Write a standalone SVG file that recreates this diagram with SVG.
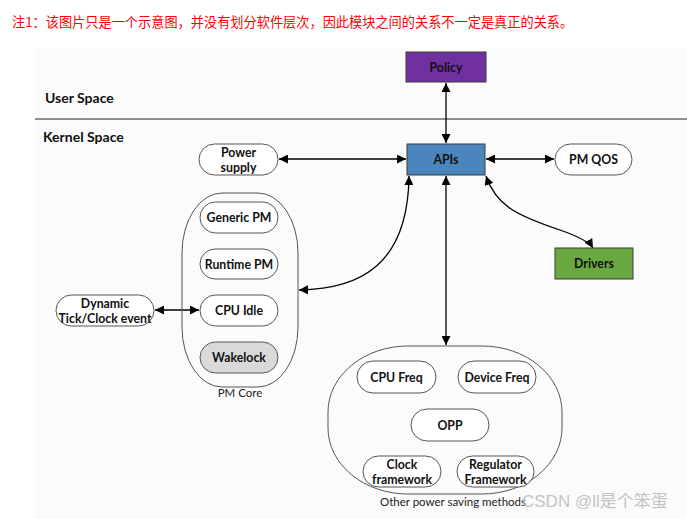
<svg xmlns="http://www.w3.org/2000/svg" width="687" height="519" viewBox="0 0 687 519">
<defs>
<marker id="ah" viewBox="0 0 10 10" refX="10" refY="5" markerWidth="9" markerHeight="9" markerUnits="userSpaceOnUse" orient="auto-start-reverse">
<path d="M0,0 L10,5 L0,10 z" fill="#000"/>
</marker>
<style>
.t{font-family:Lato,"Open Sans","Liberation Sans",sans-serif;font-weight:bold;font-size:12.3px;fill:#111;text-anchor:middle;dominant-baseline:central}
.lbl{font-family:Lato,"Open Sans","Liberation Sans",sans-serif;font-size:11.5px;fill:#222;text-anchor:middle}
.sp{font-family:Lato,"Open Sans","Liberation Sans",sans-serif;font-weight:bold;font-size:14px;fill:#111}
.pill{fill:#fff;stroke:#555;stroke-width:1}
.box{stroke:#3a3a3a;stroke-width:1}
.cont{fill:none;stroke:#555;stroke-width:1}
.c{fill:none;stroke:#000;stroke-width:1.3;marker-start:url(#ah);marker-end:url(#ah)}
</style>
</defs>
<rect x="0" y="0" width="687" height="519" fill="#fff"/>
<rect x="35" y="48" width="652" height="471" fill="#fbfbfb"/>
<text x="12" y="27" font-family="'Noto Sans CJK SC',sans-serif" font-size="13.2" fill="#ff0000">注1：该图片只是一个示意图，并没有划分软件层次，因此模块之间的关系不一定是真正的关系。</text>
<text class="sp" x="45" y="103">User Space</text>
<line x1="35" y1="119" x2="687" y2="119" stroke="#222" stroke-width="1"/>
<text class="sp" x="43" y="142">Kernel Space</text>

<g id="connectors">
<line class="c" x1="446" y1="83" x2="446" y2="143"/>
<line class="c" x1="279" y1="159" x2="406" y2="159"/>
<line class="c" x1="486" y1="159" x2="554" y2="159"/>
<line class="c" x1="446" y1="176" x2="446" y2="345"/>
<path class="c" d="M409,176 C408,265 360,289 299,290"/>
<path class="c" d="M486,176 C496,205 515,215 560,230 C580,237 590,243 593,248"/>
<line class="c" x1="155" y1="310" x2="199" y2="310"/>
</g>

<g id="policy"><rect class="box" x="406" y="52" width="80" height="30" fill="#7030a0"/><text class="t" x="446" y="67">Policy</text></g>
<g id="apis"><rect class="box" x="407" y="144" width="78" height="31" fill="#4a85bc"/><text class="t" x="446" y="159.5">APIs</text></g>
<g id="drivers"><rect class="box" x="555" y="248" width="78" height="31" fill="#6aa842"/><text class="t" x="594" y="263.5">Drivers</text></g>
<g id="power-supply"><rect class="pill" x="199" y="144" width="79" height="31" rx="15.5"/><text class="t" x="238.5" y="152.5">Power</text><text class="t" x="238.5" y="167">supply</text></g>
<g id="pm-qos"><rect class="pill" x="555" y="144" width="77" height="31" rx="15.5"/><text class="t" x="593.5" y="159.5">PM QOS</text></g>

<g id="pm-core">
<rect class="cont" x="182" y="193" width="116" height="194" rx="40" ry="60"/>
<text class="lbl" x="240" y="397">PM Core</text>
</g>
<g id="generic-pm"><rect class="pill" x="200" y="202" width="78" height="31" rx="15.5"/><text class="t" x="239" y="217.5">Generic PM</text></g>
<g id="runtime-pm"><rect class="pill" x="200" y="249" width="78" height="30" rx="15"/><text class="t" x="239" y="264">Runtime PM</text></g>
<g id="cpu-idle"><rect class="pill" x="200" y="295" width="78" height="31" rx="15.5"/><text class="t" x="239" y="310.5">CPU Idle</text></g>
<g id="wakelock"><rect class="pill" x="200" y="342" width="78" height="31" rx="15.5" style="fill:#d9d9d9"/><text class="t" x="239" y="357.5">Wakelock</text></g>
<g id="dynamic-tick"><rect class="pill" x="56" y="295" width="98" height="31" rx="15.5"/><text class="t" x="105" y="303">Dynamic</text><text class="t" x="105" y="318">Tick/Clock event</text></g>

<g id="other-power">
<rect class="cont" x="328" y="346" width="234" height="148" rx="80" ry="66"/>
<text class="lbl" x="453" y="506">Other power saving methods</text>
</g>
<g id="cpu-freq"><rect class="pill" x="357" y="361" width="79" height="32" rx="16"/><text class="t" x="396.5" y="377">CPU Freq</text></g>
<g id="device-freq"><rect class="pill" x="458" y="361" width="78" height="32" rx="16"/><text class="t" x="497" y="377">Device Freq</text></g>
<g id="opp"><rect class="pill" x="411" y="409" width="78" height="32" rx="16"/><text class="t" x="450" y="425">OPP</text></g>
<g id="clock-framework"><rect class="pill" x="363" y="456" width="78" height="31" rx="15.5"/><text class="t" x="402" y="464">Clock</text><text class="t" x="402" y="479">framework</text></g>
<g id="regulator-framework"><rect class="pill" x="457" y="456" width="77" height="31" rx="15.5"/><text class="t" x="495.5" y="464">Regulator</text><text class="t" x="495.5" y="479">Framework</text></g>

<text x="522" y="507" font-family="'Liberation Sans','Noto Sans CJK SC',sans-serif" font-size="17" fill="#b8b8b8" fill-opacity="0.85">CSDN @ll是个笨蛋</text>
</svg>
